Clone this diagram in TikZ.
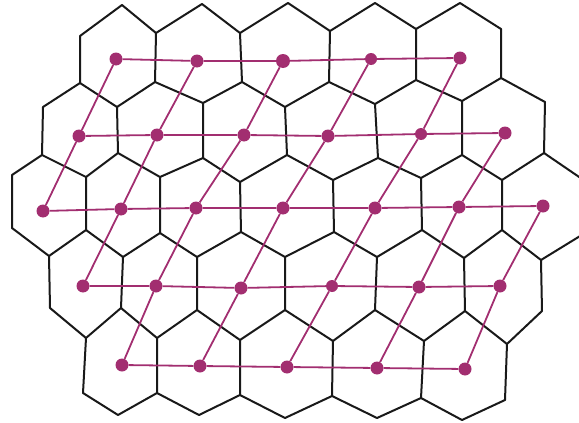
\documentclass[tikz,border=0pt]{standalone}
\definecolor{dotc}{RGB}{162,46,112}
\tikzset{
  hexline/.style={draw=black!90, line width=2pt, line join=round, line cap=round},
  link/.style={draw=dotc, line width=1.8pt},
  dotnode/.style={circle, fill=dotc, inner sep=0pt, minimum size=13pt}
}
\begin{document}
\begin{tikzpicture}[x=1pt,y=-1pt]
\useasboundingbox (0,0) rectangle (579,423);
\clip (0,0) rectangle (579,423);
% ---- hexagon grid ----
% zigzag rows
\draw[hexline] (80,36)--(122,5)--(156,33)--(202,4)--(240,33)--(288,3)--(330,31)--(375,3)--(416,29)--(460,3)--(501,29);
\draw[hexline] (43,107)--(80,83)--(117,107)--(155,82)--(203,103)--(242,82)--(285,107)--(329,82)--(375,104)--(416,80)--(462,101)--(501,78)--(545,102);
\draw[hexline] (12,175)--(42,155)--(86,177)--(118,153)--(160,177)--(203,158)--(240,182)--(287,155)--(333,180)--(378,158)--(421,178)--(462,155)--(502,180)--(544,153)--(585,181);
\draw[hexline] (12,228)--(49,256)--(86,230)--(123,257)--(160,233)--(197,257)--(241,232)--(285,257)--(334,232)--(377,257)--(422,230)--(464,258)--(502,230)--(541,260)--(585,233);
\draw[hexline] (50,308)--(86,338)--(121,308)--(157,338)--(197,310)--(240,340)--(285,310)--(333,341)--(375,310)--(424,341)--(465,311)--(507,344)--(542,311);
\draw[hexline] (83,393)--(118,415)--(157,393)--(199,415)--(240,395)--(285,418)--(332,396)--(377,418)--(421,398)--(462,420)--(505,400);
% vertical sides, row 1
\draw[hexline] (80,36)--(80,83) (156,33)--(155,82) (240,33)--(242,82) (330,31)--(329,82) (416,29)--(416,80) (501,29)--(501,78);
% row 2
\draw[hexline] (43,107)--(42,155) (117,107)--(118,153) (203,103)--(203,158) (285,107)--(287,155) (375,104)--(378,158) (462,101)--(462,155) (545,102)--(544,153);
% row 3
\draw[hexline] (12,175)--(12,228) (86,177)--(86,230) (160,177)--(160,233) (240,182)--(241,232) (333,180)--(334,232) (421,178)--(422,230) (502,180)--(502,230);
% row 4
\draw[hexline] (49,256)--(50,308) (123,257)--(121,308) (197,257)--(197,310) (285,257)--(285,310) (377,257)--(375,310) (464,258)--(465,311) (541,260)--(542,311);
% row 5
\draw[hexline] (86,338)--(83,393) (157,338)--(157,393) (240,340)--(240,395) (333,341)--(332,396) (424,341)--(421,398) (507,344)--(505,400);
% ---- lattice dots ----
\node[dotnode] (d11) at (116,59) {};
\node[dotnode] (d12) at (197,61) {};
\node[dotnode, minimum size=14pt] (d13) at (283,61) {};
\node[dotnode, minimum size=12pt] (d14) at (371,59) {};
\node[dotnode] (d15) at (460,58) {};
\node[dotnode] (d21) at (79,136) {};
\node[dotnode] (d22) at (157,135) {};
\node[dotnode] (d23) at (244,135) {};
\node[dotnode] (d24) at (328,136) {};
\node[dotnode, minimum size=12pt] (d25) at (421,134) {};
\node[dotnode] (d26) at (505,133) {};
\node[dotnode] (d31) at (43,211) {};
\node[dotnode] (d32) at (121,209) {};
\node[dotnode] (d33) at (196,208) {};
\node[dotnode] (d34) at (283,208) {};
\node[dotnode] (d35) at (375,208) {};
\node[dotnode] (d36) at (459,207) {};
\node[dotnode] (d37) at (543,206) {};
\node[dotnode] (d41) at (83,286) {};
\node[dotnode] (d42) at (156,286) {};
\node[dotnode] (d43) at (241,288) {};
\node[dotnode, minimum size=12pt] (d44) at (332,286) {};
\node[dotnode] (d45) at (419,287) {};
\node[dotnode] (d46) at (500,286) {};
\node[dotnode] (d51) at (122,365) {};
\node[dotnode] (d52) at (200,366) {};
\node[dotnode] (d53) at (287,367) {};
\node[dotnode] (d54) at (377,368) {};
\node[dotnode] (d55) at (465,369) {};
% ---- horizontal links ----
\draw[link] (d11)--(d12)--(d13)--(d14)--(d15);
\draw[link] (d21)--(d22)--(d23)--(d24)--(d25)--(d26);
\draw[link] (d31)--(d32)--(d33)--(d34)--(d35)--(d36)--(d37);
\draw[link] (d41)--(d42)--(d43)--(d44)--(d45)--(d46);
\draw[link] (d51)--(d52)--(d53)--(d54)--(d55);
% ---- slanted links ----
\draw[link] (d11)--(d21) (d12)--(d22) (d13)--(d23) (d14)--(d24) (d15)--(d25);
\draw[link] (d21)--(d31) (d22)--(d32) (d23)--(d33) (d24)--(d34) (d25)--(d35) (d26)--(d36);
\draw[link] (d32)--(d41) (d33)--(d42) (d34)--(d43) (d35)--(d44) (d36)--(d45) (d37)--(d46);
\draw[link] (d42)--(d51) (d43)--(d52) (d44)--(d53) (d45)--(d54) (d46)--(d55);
\end{tikzpicture}
\end{document}
